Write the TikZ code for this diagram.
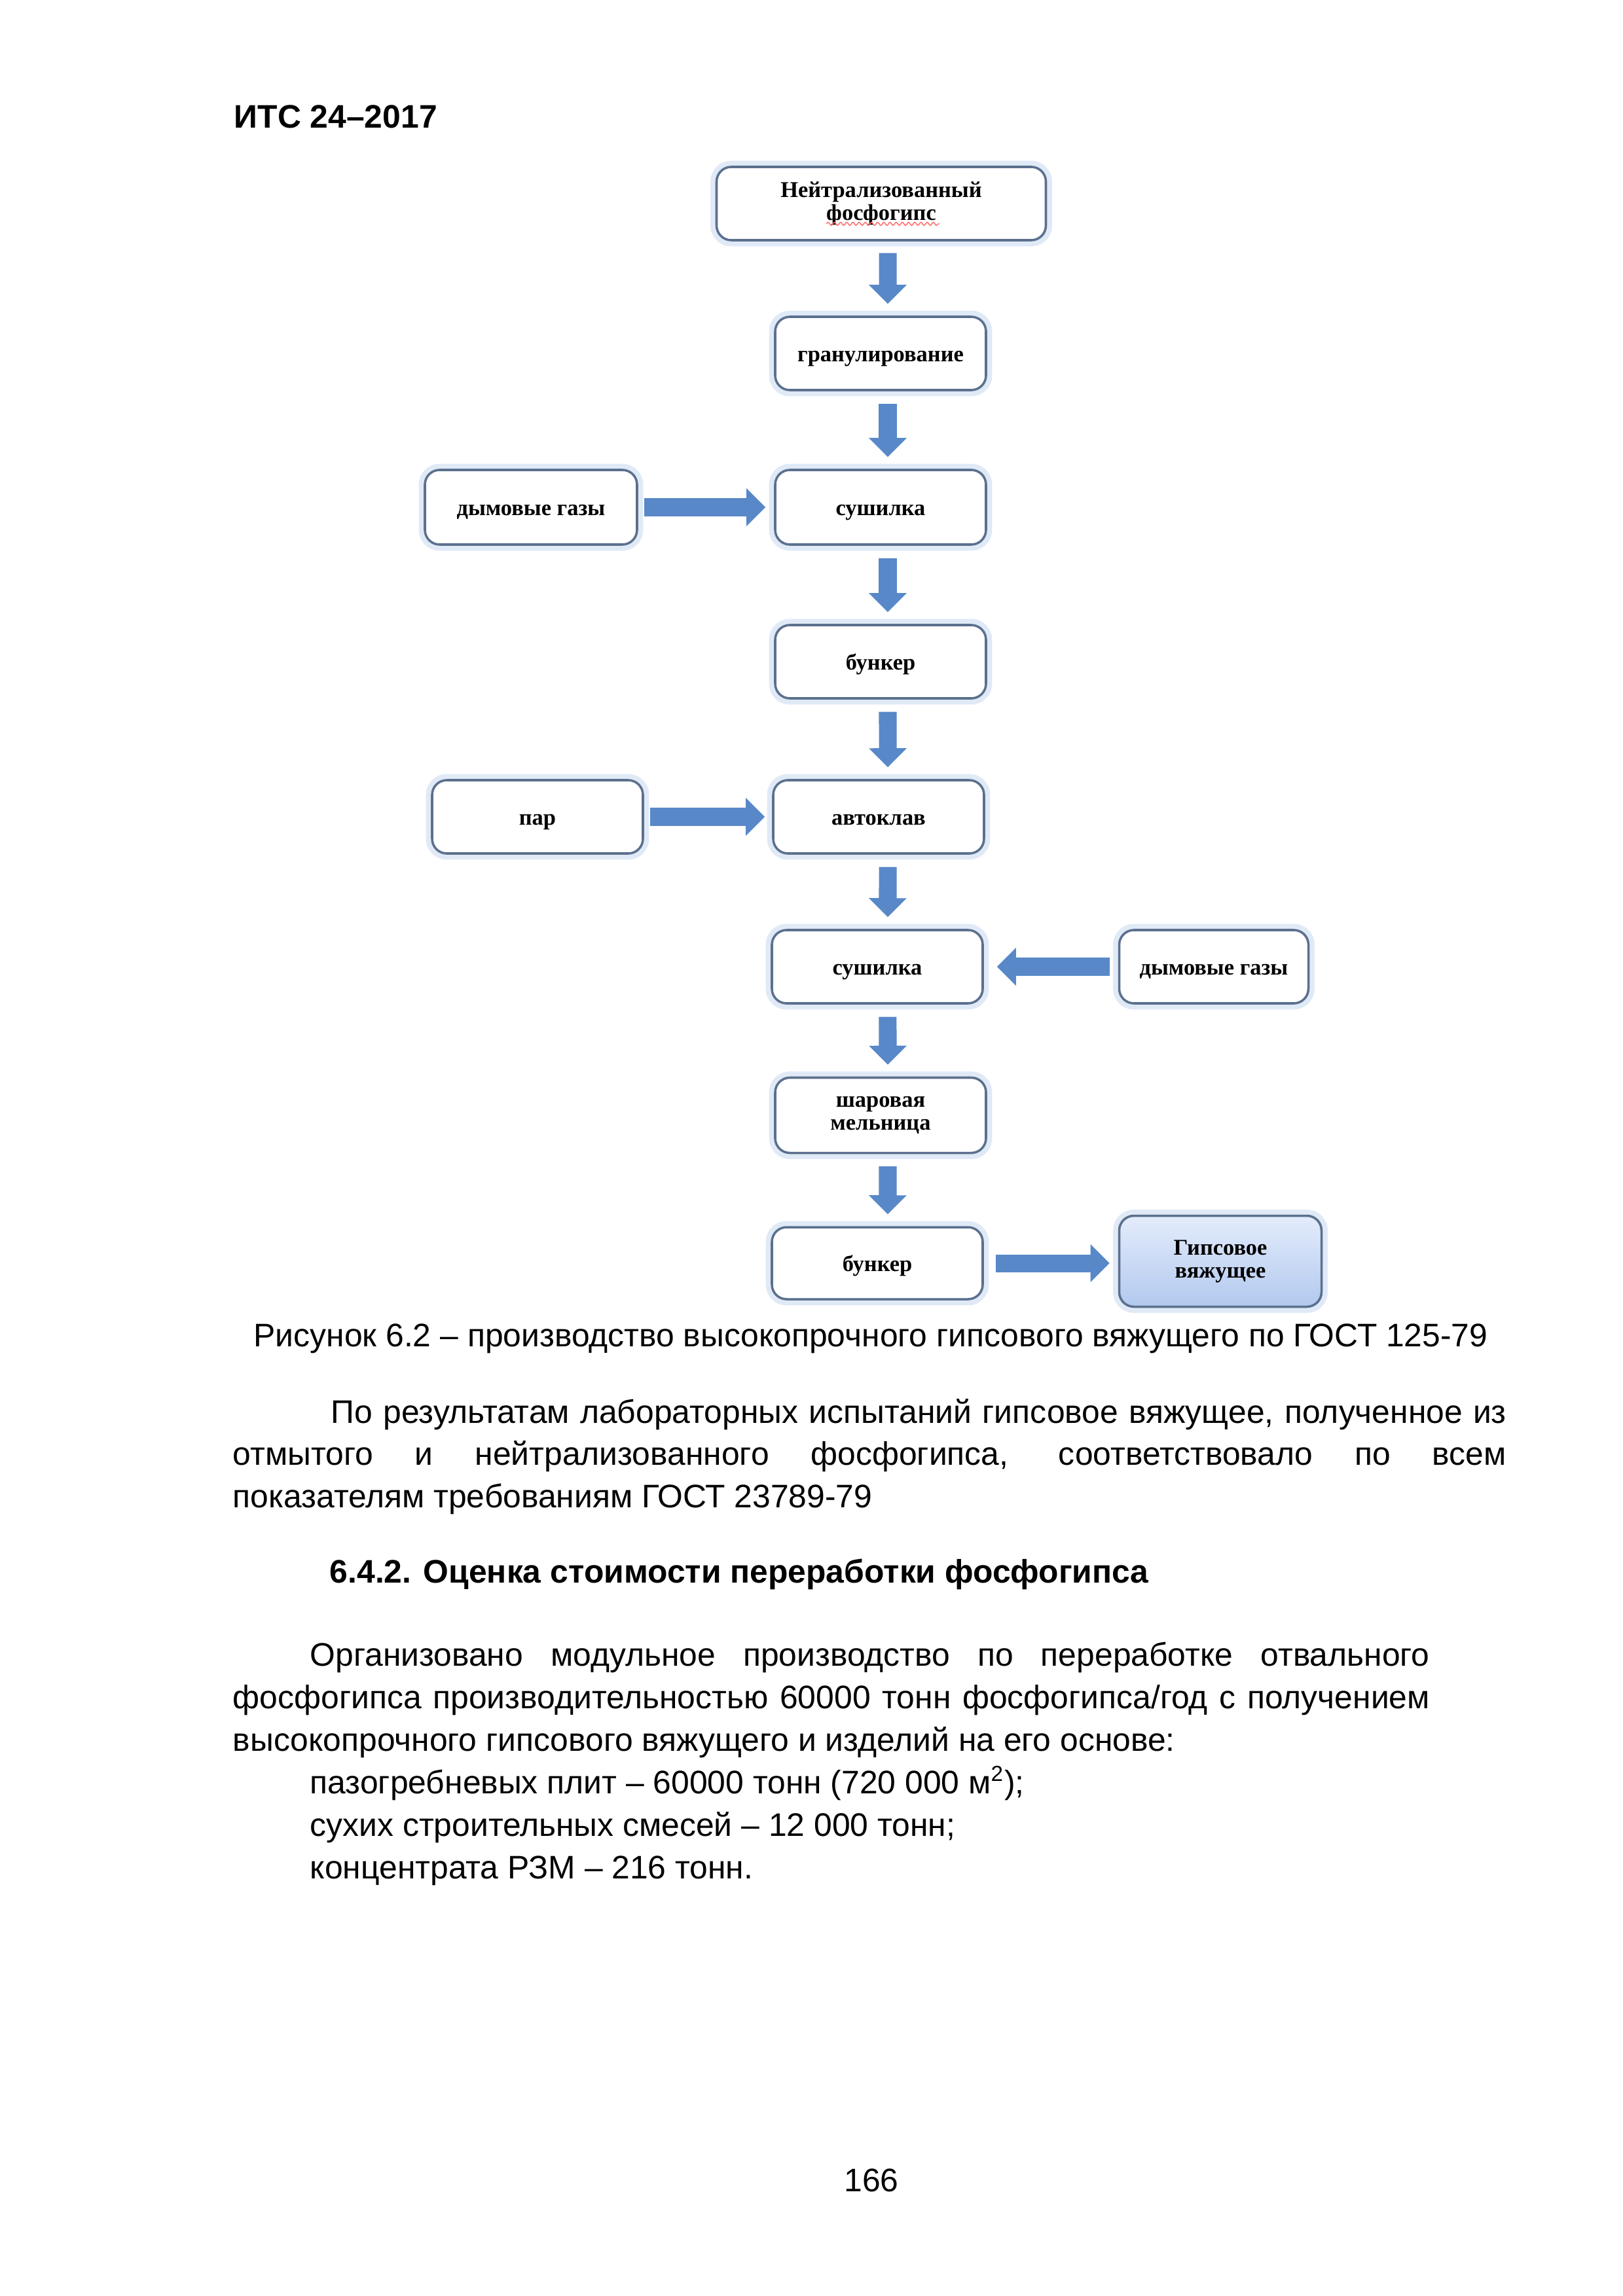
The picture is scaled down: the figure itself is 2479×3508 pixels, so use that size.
\documentclass[tikz,border=0pt]{standalone}
\usepackage{fontspec}
\setmainfont{Liberation Sans}
\newfontfamily\boxserif{Liberation Serif}
\usetikzlibrary{arrows.meta,decorations.pathmorphing}
\newlength\pxu
\setlength\pxu{0.084667mm}
\definecolor{boxline}{RGB}{92,112,142}
\definecolor{boxglow}{RGB}{224,234,247}
\definecolor{arrowblue}{RGB}{88,136,200}
\definecolor{gypstop}{RGB}{228,236,251}
\definecolor{gypsbot}{RGB}{178,201,239}

\begin{document}
\begin{tikzpicture}[x=0.084667mm, y=-0.084667mm,
    proc/.style={draw=boxline, line width=0.3mm, rounded corners=1.9mm, fill=white,
      preaction={draw=boxglow, line width=1.6mm},
      minimum width=322\pxu, minimum height=112\pxu, inner sep=0pt, align=center,
      font=\boxserif\bfseries\fontsize{8.3}{8.4}\selectfont},
    proc1/.style={proc, text height=6.4pt, text depth=0.6pt},
    flow/.style={draw=arrowblue, line width=2.29mm, -{Triangle[width=4.74mm, length=2.46mm]}},
    txt/.style={anchor=base west, inner sep=0pt, font=\fontsize{12}{14}\selectfont},
    txtb/.style={txt, font=\bfseries\fontsize{12}{14}\selectfont}]
    \path[fill=white, use as bounding box] (0, 0) rectangle (2479, 3508);

    % header
    \node[txtb] (hdr) at (357, 195) {ИТС 24–2017};

    % flowchart
    \node[proc, minimum width=503\pxu] (neutr) at (1346, 311) {Нейтрализованный\\фосфогипс};
    \node[proc1] (gran) at (1345, 540) {гранулирование};
    \node[proc1, minimum width=324\pxu, minimum height=114\pxu] (gasA) at (811, 775) {дымовые газы};
    \node[proc1, minimum height=114\pxu] (dryA) at (1345, 775) {сушилка};
    \node[proc1] (bunkA) at (1345, 1011) {бункер};
    \node[proc1] (steam) at (821, 1248) {пар};
    \node[proc1] (autocl) at (1342, 1248) {автоклав};
    \node[proc1] (dryB) at (1340, 1477) {сушилка};
    \node[proc1, minimum width=289\pxu] (gasB) at (1854, 1477) {дымовые газы};
    \node[proc, minimum height=115\pxu] (mill) at (1345, 1704) {шаровая\\мельница};
    \node[proc1, minimum height=110\pxu] (bunkB) at (1340, 1930) {бункер};
    \node[proc, top color=gypstop, bottom color=gypsbot, minimum width=309\pxu, minimum height=139\pxu] (gyps) at (1864, 1927) {Гипсовое\\вяжущее};

    \draw[red!60, line width=0.12mm, decorate, decoration={snake, amplitude=0.2mm, segment length=0.8mm}] (1262, 342) -- (1435, 342);

    \draw[flow, shorten <=1.52mm, shorten >=1.52mm] ([xshift=0.85mm]neutr.south) -- ([xshift=0.93mm]gran.north);
    \draw[flow, shorten <=1.6mm, shorten >=1.52mm] ([xshift=0.93mm]gran.south) -- ([xshift=0.93mm]dryA.north);
    \draw[flow, shorten <=1.6mm, shorten >=1.52mm] ([xshift=0.93mm]dryA.south) -- ([xshift=0.93mm]bunkA.north);
    \draw[flow, shorten <=1.6mm, shorten >=1.52mm] ([xshift=0.93mm]bunkA.south) -- ([xshift=1.19mm]autocl.north);
    \draw[flow, shorten <=1.6mm, shorten >=1.52mm] ([xshift=1.19mm]autocl.south) -- ([xshift=1.35mm]dryB.north);
    \draw[flow, shorten <=1.6mm, shorten >=1.52mm] ([xshift=1.35mm]dryB.south) -- ([xshift=0.93mm]mill.north);
    \draw[flow, shorten <=1.6mm, shorten >=1.52mm] ([xshift=0.93mm]mill.south) -- ([xshift=1.35mm]bunkB.north);

    \draw[flow, shorten <=0.76mm, shorten >=1.1mm] (gasA) -- (dryA);
    \draw[flow, shorten <=0.76mm, shorten >=0.93mm] (steam) -- (autocl);
    \draw[flow, shorten <=1.1mm, shorten >=1.69mm] (gasB) -- (dryB);
    \draw[flow, shorten <=1.52mm, shorten >=1.1mm] (bunkB.east) -- (gyps.west |- bunkB.east);

    % text of the page
    \node[txt, anchor=base] (cap) at (1330, 2057) {Рисунок 6.2 – производство высокопрочного гипсового вяжущего по ГОСТ 125-79};
    \node[txt] (parA1) at (505, 2174) {\makebox[1795\pxu][s]{По результатам лабораторных испытаний гипсовое вяжущее, полученное из}};
    \node[txt] (parA2) at (355, 2238) {\makebox[1945\pxu][s]{отмытого и нейтрализованного фосфогипса, соответствовало по всем}};
    \node[txt] (parA3) at (355, 2303) {показателям требованиям ГОСТ 23789-79};
    \node[txtb] (sect) at (503, 2418) {6.4.2. Оценка стоимости переработки фосфогипса};
    \node[txt] (parB1) at (473, 2545) {\makebox[1710\pxu][s]{Организовано модульное производство по переработке отвального}};
    \node[txt] (parB2) at (355, 2610) {\makebox[1828\pxu][s]{фосфогипса производительностью 60000 тонн фосфогипса/год с получением}};
    \node[txt] (parB3) at (355, 2675) {высокопрочного гипсового вяжущего и изделий на его основе:};
    \node[txt] (itemA) at (473, 2740) {пазогребневых плит – 60000 тонн (720 000 м\textsuperscript{2});};
    \node[txt] (itemB) at (473, 2805) {сухих строительных смесей – 12 000 тонн;};
    \node[txt] (itemC) at (473, 2870) {концентрата РЗМ – 216 тонн.};
    \node[txt, anchor=base] (pgno) at (1331, 3348) {166};
  \end{tikzpicture}
\end{document}
